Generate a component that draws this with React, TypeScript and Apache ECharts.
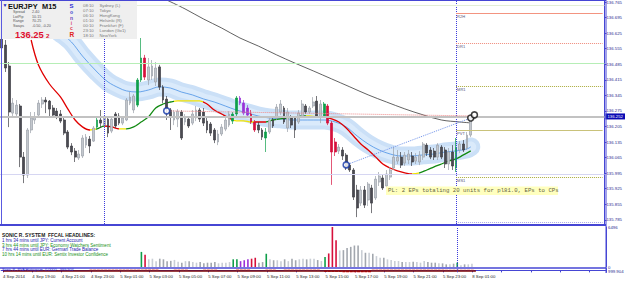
import React, { useEffect, useRef } from 'react';
import * as echarts from 'echarts';

// ---------- DATA ----------
const OPEN = [
  136.603, 136.571, 136.477, 136.265, 136.261, 136.297, 136.067, 135.986, 136.189, 136.234,
  136.256, 136.306, 136.324, 136.319, 136.288, 136.274, 136.261, 136.234, 136.180, 136.117,
  136.094, 136.063, 136.072, 136.121, 136.148, 136.139, 136.202, 136.234, 136.211, 136.238,
  136.184, 136.261, 136.252, 136.220, 136.234, 136.310, 136.279, 136.301, 136.414, 136.513,
  136.414, 136.432, 136.405, 136.473, 136.382, 136.328, 136.279, 136.234, 136.238, 136.270,
  136.225, 136.238, 136.220, 136.243, 136.279, 136.270, 136.229, 136.216, 136.189, 136.135,
  136.171, 136.193, 136.211, 136.229, 136.261, 136.310, 136.310, 136.288, 136.261, 136.225,
  136.211, 136.189, 136.153, 136.180, 136.234, 136.243, 136.270, 136.288, 136.198, 136.243,
  136.243, 136.225, 136.252, 136.297, 136.270, 136.297, 136.319, 136.247, 136.252, 136.297,
  136.220, 136.090, 136.094, 136.099, 136.076, 136.031, 136.009, 135.919, 135.860, 135.919,
  135.874, 135.928, 135.883, 135.955, 135.973, 135.937, 135.977, 136.018, 136.049, 136.067,
  136.040, 136.054, 136.072, 136.049, 136.045, 136.067, 136.121, 136.099, 136.094, 136.067,
  136.112, 136.099, 136.036, 136.090, 136.018, 136.099, 136.126, 136.108, 136.166,
];
const CLOSE = [
  136.558, 136.468, 136.270, 136.310, 136.301, 136.067, 135.986, 136.189, 136.243, 136.247,
  136.310, 136.324, 136.315, 136.283, 136.256, 136.252, 136.229, 136.175, 136.112, 136.090,
  136.067, 136.081, 136.153, 136.157, 136.117, 136.198, 136.234, 136.220, 136.243, 136.175,
  136.238, 136.207, 136.220, 136.243, 136.324, 136.337, 136.342, 136.414, 136.513, 136.427,
  136.473, 136.477, 136.468, 136.382, 136.324, 136.288, 136.247, 136.270, 136.274, 136.153,
  136.243, 136.207, 136.261, 136.279, 136.238, 136.220, 136.189, 136.175, 136.144, 136.171,
  136.202, 136.234, 136.261, 136.261, 136.333, 136.333, 136.265, 136.256, 136.225, 136.189,
  136.189, 136.157, 136.180, 136.234, 136.207, 136.292, 136.306, 136.225, 136.270, 136.211,
  136.189, 136.265, 136.306, 136.270, 136.288, 136.315, 136.252, 136.306, 136.306, 136.220,
  136.090, 136.135, 136.112, 136.072, 136.022, 136.009, 135.887, 135.838, 135.919, 135.851,
  135.946, 135.860, 135.968, 135.982, 135.928, 135.991, 136.009, 136.067, 136.067, 136.031,
  136.076, 136.081, 136.045, 136.067, 136.076, 136.126, 136.085, 136.067, 136.067, 136.121,
  136.067, 136.036, 136.090, 136.027, 136.108, 136.126, 136.099, 136.166, 136.252,
];
const LOW = [
  136.540, 136.450, 136.202, 136.243, 136.243, 136.022, 135.950, 135.973, 136.175, 136.216,
  136.247, 136.288, 136.265, 136.247, 136.243, 136.238, 136.220, 136.166, 136.103, 136.076,
  136.045, 136.054, 136.063, 136.108, 136.085, 136.135, 136.189, 136.198, 136.198, 136.157,
  136.175, 136.198, 136.211, 136.211, 136.229, 136.301, 136.265, 136.292, 136.405, 136.414,
  136.391, 136.414, 136.387, 136.369, 136.310, 136.234, 136.189, 136.211, 136.202, 136.144,
  136.211, 136.198, 136.211, 136.229, 136.225, 136.207, 136.175, 136.162, 136.130, 136.121,
  136.162, 136.184, 136.202, 136.216, 136.252, 136.301, 136.256, 136.243, 136.216, 136.180,
  136.175, 136.144, 136.090, 136.171, 136.198, 136.234, 136.256, 136.216, 136.180, 136.198,
  136.153, 136.216, 136.243, 136.261, 136.261, 136.288, 136.243, 136.220, 136.243, 136.211,
  135.942, 136.072, 136.081, 136.054, 136.009, 136.000, 135.874, 135.797, 135.847, 135.838,
  135.847, 135.815, 135.874, 135.937, 135.919, 135.928, 135.964, 136.009, 136.036, 136.018,
  136.027, 136.036, 136.027, 136.036, 136.031, 136.054, 136.072, 136.058, 136.054, 136.054,
  136.058, 136.018, 136.009, 136.009, 136.000, 136.085, 136.090, 136.099, 136.157,
];
const HIGH = [
  136.639, 136.594, 136.495, 136.333, 136.324, 136.306, 136.090, 136.198, 136.270, 136.270,
  136.324, 136.337, 136.337, 136.324, 136.301, 136.288, 136.279, 136.243, 136.189, 136.130,
  136.108, 136.099, 136.166, 136.171, 136.162, 136.207, 136.243, 136.279, 136.252, 136.247,
  136.247, 136.270, 136.265, 136.252, 136.333, 136.360, 136.351, 136.423, 136.603, 136.527,
  136.513, 136.504, 136.495, 136.482, 136.391, 136.342, 136.288, 136.279, 136.283, 136.279,
  136.261, 136.252, 136.279, 136.297, 136.288, 136.288, 136.243, 136.225, 136.198, 136.189,
  136.216, 136.243, 136.274, 136.270, 136.342, 136.342, 136.324, 136.301, 136.279, 136.234,
  136.225, 136.198, 136.198, 136.243, 136.252, 136.306, 136.324, 136.297, 136.288, 136.256,
  136.252, 136.279, 136.324, 136.306, 136.297, 136.337, 136.342, 136.324, 136.315, 136.306,
  136.229, 136.153, 136.126, 136.112, 136.085, 136.040, 136.018, 135.942, 135.937, 135.937,
  135.955, 135.942, 135.982, 136.000, 135.986, 136.009, 136.022, 136.112, 136.099, 136.090,
  136.090, 136.099, 136.090, 136.085, 136.094, 136.135, 136.130, 136.112, 136.108, 136.130,
  136.121, 136.112, 136.108, 136.121, 136.153, 136.139, 136.144, 136.180, 136.256,
];

// PVA coloured bars (bar indices)
const GREEN_BARS = [26, 37, 38, 63, 64, 72, 88, 124];
const RED_BARS = [39, 68, 69, 89, 90, 91];
const PURPLE_BARS = [65, 66, 67];

// Volumes from bar 38 on
const VOL_START = 38;
const VOLUME = [
  2450, 2000, 1250, 1350, 950, 1350, 1250, 950, 1000, 1150,
  850, 700, 950, 950, 800, 700, 800, 600, 700, 700,
  800, 600, 700, 700, 800, 1250, 1250, 950, 1100, 1250,
  1350, 1500, 700, 800, 2150, 1250, 1100, 1100, 950, 1250,
  950, 1350, 1100, 1250, 1350, 1240, 1350, 1350, 1130, 970,
  1610, 2200, 6496, 4350, 2690, 2740, 3100, 3270, 3490, 3490,
  2740, 2310, 2310, 2150, 1770, 1500, 1500, 1240, 1130, 970,
  970, 800, 800, 800, 860, 800, 700, 970, 800, 700,
  700, 590, 590, 430, 430, 540, 700, 270, 430, 430,
  540,
];

// Oscillator sub-window histogram
const OSC = [
  0, 0, 0, 0, 0, 0, 0, 0, 0, 0,
  0, 0, 0, 0, 0, 0, 0, 0, 0, 0,
  0, 0, 0, 0, 0.5, 0.5, 0.5, 0.5, 0.5, 0.5,
  0.5, 0.5, 0.5, 0.5, 0.5, 0.5, 0.5, 0.5, 0.5, 0.7,
  0.7, 0.7, 0.7, 0, 0, 0, 0, 0.5, 0.5, 0.5,
  0.5, 0, 0, 0, 0, 0.5, 0.5, 0.5, 0.5, 0,
  0, 0, 0, 0, 0.6, 0.6, 0.6, 0.6, 0, 0,
  0, 0, 0.5, 0.5, 0.5, 0, 0, 0.5, 0.5, 0.5,
  0.5, 0.5, 0.5, 0.5, 0.5, 0.5, 0.5, 0, -0.6, -0.6,
  -0.6, -0.6, -0.6, -0.9, -0.9, -0.9, -0.9, -0.9, -0.9, -0.9,
  -0.9, 0.5, 0.5, 0.5, 0.5, 0.5, 0.5, 0.5, 0.5, 0.5,
  0.5, 0.5, 0.5, 0.5, 0.5, 0.5, 0.5, 0.5, 0.5, 0.5,
  0.5, 0.4, 0.4, 0.4, 0.4, 0.4, 0.4, 0.4, 0.4,
];

// Long moving average (read points)
const MA_IDX = [45, 50, 55, 60, 65, 70, 75, 80, 85, 90, 95, 100, 105, 110, 115, 120, 125, 128];
const MA_VAL = [136.774, 136.734, 136.689, 136.648, 136.603, 136.567, 136.527, 136.490, 136.455,
  136.419, 136.383, 136.347, 136.315, 136.284, 136.257, 136.234, 136.225, 136.221];

// Sonic R coloured MA (read points)
const SONIC_IDX = [8, 10, 13, 16, 18, 20, 22, 24, 26, 28, 30, 32, 34, 36, 38, 40, 42, 44, 46, 48,
  51, 54, 56, 58, 60, 62, 64, 66, 68, 70, 72, 74, 76, 78, 80, 82, 84, 86, 88, 90,
  92, 94, 96, 98, 100, 102, 104, 106, 108, 110, 112, 114, 116, 118, 120, 122, 124, 126, 128];
const SONIC_VAL = [136.594, 136.482, 136.396, 136.338, 136.284, 136.234, 136.203, 136.189, 136.194, 136.207,
  136.203, 136.194, 136.194, 136.203, 136.225, 136.248, 136.288, 136.306, 136.315, 136.320,
  136.320, 136.320, 136.306, 136.279, 136.261, 136.243, 136.230, 136.230, 136.225, 136.225,
  136.225, 136.234, 136.239, 136.243, 136.248, 136.252, 136.252, 136.248, 136.248, 136.239,
  136.225, 136.198, 136.162, 136.126, 136.099, 136.068, 136.036, 136.018, 136.005, 135.996,
  135.991, 135.996, 136.009, 136.023, 136.036, 136.050, 136.059, 136.077, 136.095];
const SONIC_SEG_START = [0, 24, 26, 28, 32, 34, 47, 55, 63, 69, 72, 83, 88, 112, 114];
const SONIC_SEG_KIND = ['dn', 'flat', 'up', 'dn', 'flat', 'up', 'flat', 'dn', 'flat', 'dn', 'up', 'flat', 'dn', 'flat', 'up'];

// Sonic R dragon band centre (read points)
const BAND_IDX = [12, 16, 19, 22, 26, 29, 32, 34, 37, 40, 43, 46, 49, 52, 55, 58, 61, 64, 67, 70,
  73, 76, 79, 82, 85, 88, 91, 94, 97, 100, 103, 106, 109, 112, 115, 118, 121, 124, 127, 128];
const BAND_VAL = [136.675, 136.626, 136.585, 136.522, 136.450, 136.405, 136.378, 136.365, 136.360, 136.369,
  136.383, 136.378, 136.360, 136.347, 136.329, 136.315, 136.297, 136.279, 136.266, 136.252,
  136.243, 136.239, 136.234, 136.234, 136.234, 136.234, 136.225, 136.203, 136.162, 136.126,
  136.099, 136.081, 136.072, 136.072, 136.077, 136.081, 136.090, 136.095, 136.104, 136.113];

const PRICE_TICKS = [136.765, 136.695, 136.625, 136.555, 136.485, 136.415, 136.345, 136.275,
  136.205, 136.135, 136.065, 135.995, 135.925, 135.855, 135.785];
const VOL_TICKS = [0, 6496];
const BID = 136.252;
const FULL_LEVELS = [136.747, 136.494, 135.989];
const PIVOT_VALUES = [136.714, 136.579, 136.386, 136.189, 135.977, 135.776];
const PIVOT_LABELS = ['R2H', 'DR1', 'MR1', 'PVT', 'MS1', ''];
const PIVOT_START = 124;
const DAY_SEPARATORS = [28, 124];
const OPEN_MARKS = [[45, 136.275], [94, 136.032]];
const CLOSE_MARKS = [[128, 136.243], [129, 136.257]];
const TRADES = [
  { from: [45, 136.275], to: [129, 136.252], side: 'sell' },
  { from: [94, 136.032], to: [128, 136.243], side: 'buy' },
];
const FIRST_LABEL = '4 Sep 2014';
const SESSIONS = [
  ['08:10', 'Sydney (L)'], ['07:10', 'Tokyo'], ['06:10', 'HongKong'], ['01:10', 'Helsinki (R)'],
  ['00:10', 'Frankfurt (F)'], ['23:10', 'London (Gx1)'], ['18:10', 'NewYork'],
];
const STATS = [['Spread', '2.40'], ['LotPip', '10.15'], ['Range', '70.25'], ['Swaps', '-0.50, -0.20']];
const HEADLINES = [
  '1 hrs 34 mins until JPY: Current Account',
  '3 hrs 44 mins until JPY: Economy Watchers Sentiment',
  '7 hrs 44 mins until EUR: German Trade Balance',
  '10 hrs 14 mins until EUR: Sentix Investor Confidence',
];

// ---------- helpers ----------
const N_SLOTS = 165;
const LAST_BAR = OPEN.length - 1;

function barTimes(n: number): string[] {
  const out: string[] = [];
  let day = 4, h = 17, m = 0;
  const p = (v: number) => String(v).padStart(2, '0');
  for (let i = 0; i < n; i++) {
    out.push(`${day} Sep ${p(h)}:${p(m)}`);
    m += 15;
    if (m === 60) { m = 0; h++; }
    if (h === 24) { h = 0; day = day === 5 ? 8 : day + 1; }
  }
  return out;
}
function sparse(idx: number[], val: number[]) {
  const a: (number | null)[] = new Array(N_SLOTS).fill(null);
  idx.forEach((k, j) => { a[k] = val[j]; });
  return a;
}

const FONT = '"Liberation Sans", Arial, sans-serif';
const AX_BLUE = '#4646d4';
const C_GREEN = '#0f9f4a';
const C_RED = '#d6103c';
const C_PURPLE = '#9a30d8';
const SEG_COL: Record<string, string> = { dn: '#e00000', up: '#128a12', flat: '#f2e400' };

function pva(i: number): string | null {
  if (GREEN_BARS.includes(i)) return C_GREEN;
  if (RED_BARS.includes(i)) return C_RED;
  if (PURPLE_BARS.includes(i)) return C_PURPLE;
  return null;
}

function T(x: number, y: number, text: string, size: number, fill: string, weight = 'normal', family = FONT) {
  return {
    type: 'text', x, y, z: 100, silent: true,
    style: {
      text, fill, fontSize: size, fontWeight: weight, fontFamily: family,
      align: 'left', verticalAlign: 'middle', textAlign: 'left', textVerticalAlign: 'middle',
    },
  };
}
function L(x1: number, y1: number, x2: number, y2: number, stroke: string, w = 1) {
  return { type: 'line', z: 100, silent: true, shape: { x1, y1, x2, y2 }, style: { stroke, lineWidth: w } };
}

export default function App() {
  const ref = useRef<HTMLDivElement>(null);
  useEffect(() => {
    if (!ref.current) return;
    const chart = echarts.init(ref.current, null, { renderer: 'svg' });
    const cats = barTimes(N_SLOTS);

    const candleData = OPEN.map((o, i) => {
      const c = pva(i);
      const item: any = { value: [o, CLOSE[i], LOW[i], HIGH[i]] };
      if (c) item.itemStyle = { color: c, color0: c, borderColor: c, borderColor0: c };
      return item;
    });
    const volData = new Array(N_SLOTS).fill(null).map((_, i) => {
      if (i < VOL_START || i > LAST_BAR) return null;
      const c = pva(i) || (CLOSE[i] >= OPEN[i] ? '#c9ced5' : '#a2a7ae');
      return { value: VOLUME[i - VOL_START], itemStyle: { color: c } };
    });
    const oscData = OSC.map((v) => ({ value: v, itemStyle: { color: v < 0 ? '#ff1c1c' : '#f3a79c' } }));

    const bandData = sparse(BAND_IDX, BAND_VAL);
    const pieces = SONIC_SEG_START.map((s, k) => ({
      gte: s, lt: k + 1 < SONIC_SEG_START.length ? SONIC_SEG_START[k + 1] : 1000, color: SEG_COL[SONIC_SEG_KIND[k]],
    }));

    const pivotStyles = [
      { color: '#f39480', type: 'solid' }, { color: '#ef8a7a', type: 'dotted' }, { color: '#aaaa3a', type: 'dotted' },
      { color: '#c9c27a', type: 'solid' }, { color: '#aaaa3a', type: 'dotted' }, { color: '#a8a8e8', type: 'dotted' },
    ];
    const fullStyles = ['#e3eed6', '#b6eeb6', '#d6d6f2'];

    const xAxes = [0, 1, 2].map((k) => ({
      type: 'category', gridIndex: k, data: cats, boundaryGap: true,
      axisLine: { show: k === 2, lineStyle: { color: AX_BLUE, width: 1 } },
      axisTick: { show: k === 2, interval: 7, alignWithLabel: true, length: 2, lineStyle: { color: AX_BLUE } },
      axisLabel: {
        show: k === 2, interval: 7, fontSize: 4.3, color: '#1e1e1e', align: 'left', margin: 2.5, fontFamily: FONT,
        formatter: (v: string, idx: number) => (idx === 0 ? FIRST_LABEL : idx <= LAST_BAR ? v : ''),
      },
      splitLine: { show: false },
    }));

    const option: any = {
      animation: false,
      backgroundColor: '#ffffff',
      textStyle: { fontFamily: FONT },
      grid: [
        { left: -1, top: 0, width: 607, height: 224 },
        { left: -1, top: 227, width: 607, height: 40 },
        { left: -1, top: 268.5, width: 607, height: 3.8 },
      ],
      xAxis: xAxes,
      yAxis: [
        {
          type: 'value', gridIndex: 0, position: 'right', min: 135.766, max: 136.774,
          axisLine: { show: true, lineStyle: { color: AX_BLUE } },
          axisTick: { show: true, customValues: PRICE_TICKS, length: 2, lineStyle: { color: AX_BLUE } },
          axisLabel: { customValues: PRICE_TICKS, formatter: (v: number) => v.toFixed(3), fontSize: 4.3, color: '#2b2b8f', margin: 2, fontFamily: FONT },
          splitLine: { show: false },
        },
        {
          type: 'value', gridIndex: 1, position: 'right', min: 0, max: 6496,
          axisLine: { show: true, lineStyle: { color: AX_BLUE } },
          axisTick: { show: false },
          axisLabel: { customValues: VOL_TICKS, formatter: (v: number) => String(v), fontSize: 4.3, color: '#2b2b8f', margin: 2, fontFamily: FONT },
          splitLine: { show: false },
        },
        {
          type: 'value', gridIndex: 2, position: 'right', min: -0.8, max: 0.8,
          axisLine: { show: true, lineStyle: { color: AX_BLUE } },
          axisTick: { show: false }, axisLabel: { show: false }, splitLine: { show: false },
        },
      ],
      visualMap: [{ type: 'piecewise', show: false, seriesIndex: 4, dimension: 0, pieces }],
      series: [
        {
          type: 'line', xAxisIndex: 0, yAxisIndex: 0, data: bandData, connectNulls: true, smooth: 0.35,
          showSymbol: false, silent: true, z: 1, lineStyle: { width: 19, color: '#cbe0f7', cap: 'round', join: 'round' },
        },
        {
          type: 'line', xAxisIndex: 0, yAxisIndex: 0, data: bandData, connectNulls: true, smooth: 0.35,
          showSymbol: false, silent: true, z: 1, lineStyle: { width: 11, color: '#daeafb', cap: 'round', join: 'round' },
        },
        {
          type: 'line', xAxisIndex: 0, yAxisIndex: 0, data: bandData, connectNulls: true, smooth: 0.35,
          showSymbol: false, silent: true, z: 2, lineStyle: { width: 0.8, color: '#4a92e6' },
        },
        {
          type: 'line', xAxisIndex: 0, yAxisIndex: 0, data: sparse(MA_IDX, MA_VAL), connectNulls: true, smooth: 0.35,
          showSymbol: false, silent: true, z: 2, lineStyle: { width: 0.8, color: '#3a3a3a' },
        },
        {
          type: 'line', xAxisIndex: 0, yAxisIndex: 0, data: sparse(SONIC_IDX, SONIC_VAL), connectNulls: true, smooth: 0.35,
          showSymbol: false, silent: true, z: 3, lineStyle: { width: 1.3 },
        },
        {
          type: 'candlestick', xAxisIndex: 0, yAxisIndex: 0, data: candleData, barWidth: 2.3, z: 4, silent: true,
          itemStyle: { color: '#c3c7cd', color0: '#4b4b52', borderColor: '#9ba1a9', borderColor0: '#3d3d44', borderWidth: 0.7 },
          markLine: {
            silent: true, symbol: ['none', 'none'], animation: false, label: { show: false },
            data: [
              ...DAY_SEPARATORS.map((d) => ({ xAxis: d, lineStyle: { color: '#3b3bdc', type: 'dotted', width: 1 } })),
              ...FULL_LEVELS.map((v, k) => ({ yAxis: v, lineStyle: { color: fullStyles[k], type: 'solid', width: 1 } })),
              ...PIVOT_VALUES.map((v, k) => [
                {
                  coord: [PIVOT_START, v], lineStyle: { color: pivotStyles[k].color, type: pivotStyles[k].type, width: 1 },
                  label: { show: !!PIVOT_LABELS[k], formatter: PIVOT_LABELS[k], position: 'insideStartBottom', fontSize: 4, color: '#55557a', distance: [1, 1], fontFamily: FONT },
                },
                { coord: [N_SLOTS - 1, v] },
              ]),
              {
                yAxis: BID, lineStyle: { color: '#c2c2c2', width: 2, type: 'solid' },
                label: {
                  show: true, position: 'end', distance: 1, formatter: BID.toFixed(3), backgroundColor: '#0a0ab4',
                  color: '#ffffff', fontSize: 4.3, padding: [1, 2], fontFamily: FONT,
                },
              },
            ],
          },
        },
        {
          type: 'scatter', xAxisIndex: 0, yAxisIndex: 0, z: 6, silent: true, symbol: 'circle', symbolSize: 6,
          data: [
            ...OPEN_MARKS.map((m) => ({ value: m, itemStyle: { color: '#ffffff', borderColor: '#1234a6', borderWidth: 1.6 } })),
            ...CLOSE_MARKS.map((m) => ({ value: m, itemStyle: { color: '#ffffff', borderColor: '#111111', borderWidth: 1.6 } })),
          ],
          markLine: {
            silent: true, symbol: ['none', 'none'], animation: false, label: { show: false },
            data: TRADES.map((t) => [
              { coord: t.from, lineStyle: { color: t.side === 'sell' ? '#f08a8a' : '#6f92ea', type: 'dotted', width: 1 } },
              { coord: t.to },
            ]),
          },
        },
        {
          type: 'bar', xAxisIndex: 1, yAxisIndex: 1, data: volData, barWidth: 1.6, silent: true, z: 3,
          markLine: {
            silent: true, symbol: ['none', 'none'], animation: false, label: { show: false },
            data: [{ xAxis: DAY_SEPARATORS[1], lineStyle: { color: '#3b3bdc', type: 'dotted', width: 1 } }],
          },
        },
        {
          type: 'bar', xAxisIndex: 2, yAxisIndex: 2, data: oscData, barWidth: 3, silent: true, z: 3,
          markLine: {
            silent: true, symbol: ['none', 'none'], animation: false, label: { show: false },
            data: [
              [{ coord: [0, 0], lineStyle: { color: '#7a0404', width: 1.6, type: 'solid' } }, { coord: [LAST_BAR + 1, 0] }],
              { xAxis: DAY_SEPARATORS[1], lineStyle: { color: '#3b3bdc', type: 'dotted', width: 1 } },
            ],
          },
        },
      ],
      graphic: [
        // frame / separators
        L(0, 0.5, 606, 0.5, AX_BLUE, 1),
        L(1.5, 0, 1.5, 224, '#5a5ae0', 1),
        L(0, 225, 606, 225, AX_BLUE, 2),
        L(0, 267.9, 606, 267.9, AX_BLUE, 1.5),
        L(606, 0, 606, 273, AX_BLUE, 1),
        // header box
        { type: 'rect', z: 99, silent: true, shape: { x: 0, y: 1, width: 137, height: 38 }, style: { fill: '#efefef' } },
        T(2.5, 5, '▼', 5, '#2020c0'),
        T(8, 6.5, 'EURJPY', 7.4, '#111111', 'bold'),
        T(42, 6.5, 'M15', 7.4, '#111111', 'bold'),
        ...STATS.flatMap((s, k) => [
          T(13, 12.3 + k * 4.4, s[0], 3.7, '#555555'),
          T(32, 12.3 + k * 4.4, s[1], 3.7, '#555555'),
        ]),
        T(15, 34, '136.25', 9.4, '#e01030', 'bold'),
        T(46, 35, '2', 6.2, '#e01030', 'bold'),
        T(69.5, 6, 'S', 6, '#2a2ad6', 'bold'),
        T(70, 12, 'o', 5, '#3e46d0', 'bold'),
        T(70, 17.5, 'n', 5, '#6a48c0', 'bold'),
        T(70.8, 22.8, 'i', 5, '#d84a78', 'bold'),
        T(70, 28, 'c', 5, '#e03a52', 'bold'),
        T(69.5, 34, 'R', 6.5, '#e02020', 'bold'),
        ...SESSIONS.flatMap((s, k) => [
          T(83, 5 + k * 5.1, s[0], 4.3, '#7a7a7a'),
          T(99.5, 5 + k * 5.1, s[1], 4.3, '#7a7a7a'),
        ]),
        // headlines
        T(2, 235, 'SONIC R. SYSTEM  FFCAL HEADLINES:', 4.9, '#202020', 'bold'),
        ...HEADLINES.map((h, k) => T(2, 240.5 + k * 4.6, h, 4.5, k % 2 === 0 ? '#1a1ab0' : '#189018')),
        T(2, 270.2, 'Sonic R. PVA Histogram  0.0000  -999.904', 3.8, '#2a2ad0'),
        T(608, 271.5, '999.904', 4.3, '#2b2b8f'),
        // P/L box
        { type: 'rect', z: 99, silent: true, shape: { x: 386, y: 186.5, width: 172, height: 8.5 }, style: { fill: '#ffffbe' } },
        T(388, 190.8, 'PL: 2 EPs totaling 20 units for pl81.0, EPs to CPs', 5.7, '#666644', 'normal', '"Liberation Mono", monospace'),
      ],
    };
    chart.setOption(option);
    return () => chart.dispose();
  }, []);
  return <div ref={ref} style={{ position: 'fixed', left: 0, top: 0, width: 625, height: 282, background: '#fff' }} />;
}
